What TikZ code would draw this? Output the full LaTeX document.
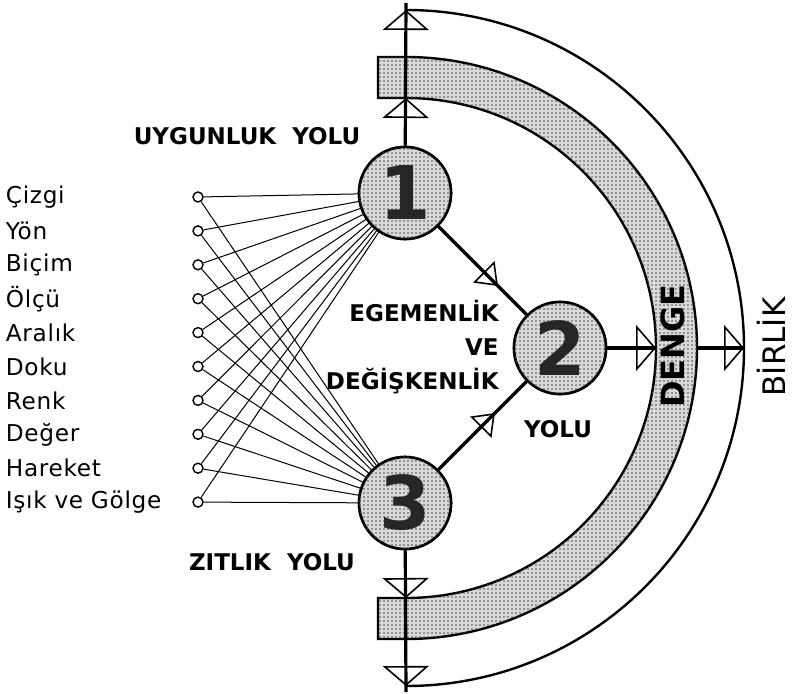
\documentclass[tikz,border=0pt]{standalone}
\usepackage{fontspec}
\setmainfont{DejaVu Sans}
\newfontfamily\labfont[LetterSpace=3]{DejaVu Sans}
\usetikzlibrary{arrows.meta,positioning,calc,patterns.meta}

\begin{document}
\begin{tikzpicture}[x=0.5pt,y=0.5pt,
  node distance=16.95pt and 6pt,
  hub/.style={draw,circle,line width=1.3pt,minimum size=46pt,inner sep=0pt,fill=gray!30,
    postaction={pattern={Dots[radius=0.45pt,distance=2pt]},pattern color=black!70},
    font=\fontsize{37}{37}\selectfont\bfseries,text=black!85},
  term/.style={draw,circle,inner sep=0pt,minimum size=5pt,line width=0.7pt,fill=white,on grid},
  lab/.style={text width=87pt,align=left,inner sep=0pt,font=\labfont\fontsize{11.6}{12}\selectfont},
  head/.style={inner sep=0pt,font=\fontsize{11.5}{17}\selectfont\bfseries},
  band/.style={draw,line width=1.2pt,fill=gray!30,
    postaction={pattern={Dots[radius=0.45pt,distance=2pt]},pattern color=black!70}},
  rim/.style={draw,line width=1.2pt},
  fan/.style={line width=0.5pt},
  axis/.style={line width=1.6pt},
  tip/.style={line width=0.8pt,-{Triangle[open,length=10pt,width=23pt,line width=0.8pt]}},
  midtip/.style={line width=0.8pt,-{Triangle[open,length=10pt,width=15pt,line width=0.8pt]}}
]
\useasboundingbox (0,0) rectangle (793,693);

% the three ways
\node[hub] (c1) at (405,500) {1};
\node[hub] (c2) at (560,345) {2};
\node[hub] (c3) at (405,190) {3};

% elements
\node[term] (t1) at (198,496) {};
\node[term,below=of t1] (t2) {};
\node[term,below=of t2] (t3) {};
\node[term,below=of t3] (t4) {};
\node[term,below=of t4] (t5) {};
\node[term,below=of t5] (t6) {};
\node[term,below=of t6] (t7) {};
\node[term,below=of t7] (t8) {};
\node[term,below=of t8] (t9) {};
\node[term,below=of t9] (t10) {};
\node[lab,left=of t1] (l1) {Çizgi};
\node[lab,left=of t2] (l2) {Yön};
\node[lab,left=of t3] (l3) {Biçim};
\node[lab,left=of t4] (l4) {Ölçü};
\node[lab,left=of t5] (l5) {Aralık};
\node[lab,left=of t6] (l6) {Doku};
\node[lab,left=of t7] (l7) {Renk};
\node[lab,left=of t8] (l8) {Değer};
\node[lab,left=of t9] (l9) {Hareket};
\node[lab,left=of t10] (l10) {Işık ve Gölge};

\draw[fan] (t1) -- (c1) (t1) -- (c3);
\draw[fan] (t2) -- (c1) (t2) -- (c3);
\draw[fan] (t3) -- (c1) (t3) -- (c3);
\draw[fan] (t4) -- (c1) (t4) -- (c3);
\draw[fan] (t5) -- (c1) (t5) -- (c3);
\draw[fan] (t6) -- (c1) (t6) -- (c3);
\draw[fan] (t7) -- (c1) (t7) -- (c3);
\draw[fan] (t8) -- (c1) (t8) -- (c3);
\draw[fan] (t9) -- (c1) (t9) -- (c3);
\draw[fan] (t10) -- (c1) (t10) -- (c3);

% balance band and outer rim
\path[band] (378,636) -- (406,636) arc[start angle=90,end angle=-90,radius=291]
  -- (378,54) -- (378,95) -- (406,95) arc[start angle=-90,end angle=90,radius=250]
  -- (378,595) -- cycle;
\path[rim] (406,683) arc[start angle=90,end angle=-90,radius=338];

\coordinate (top) at (406,690);
\coordinate (up1) at (406,595);
\coordinate (up2) at (406,683);
\coordinate (bot) at (406,1);
\coordinate (dn1) at (406,95);
\coordinate (dn2) at (406,7);
\coordinate (rt1) at (656,345);
\coordinate (bo) at (697,345);
\coordinate (rt2) at (744,345);
\coordinate (m12) at ($(c1)!0.6!(c2)$);
\coordinate (m32) at ($(c3)!0.58!(c2)$);

\draw[axis] (c1) -- (top);
\draw[axis] (c3) -- (bot);
\draw[axis] (c2) -- (rt1);
\draw[axis] (bo) -- (rt2);
\draw[axis] (c1) -- (c2);
\draw[axis] (c3) -- (c2);
\draw[tip] (c1) -- (up1);
\draw[tip] (c1) -- (up2);
\draw[tip] (c3) -- (dn1);
\draw[tip] (c3) -- (dn2);
\draw[tip] (c2) -- (rt1);
\draw[tip] (bo) -- (rt2);
\draw[midtip] (c1) -- (m12);
\draw[midtip] (c3) -- (m32);

% redraw hubs over line ends
\node[hub] at (c1) {1};
\node[hub] at (c2) {2};
\node[hub] at (c3) {3};

\node[head] (uy) at (247,557) {UYGUNLUK\ \ YOLU};
\node[head] (zt) at (272,131) {ZITLIK\ \ YOLU};
\node[head,align=right,anchor=east] (eg) at (499,346) {EGEMENLİK\\VE\\DEĞİŞKENLİK};
\node[head] (yl) at (558,264) {YOLU};
\node[rotate=90,inner sep=0pt,font=\fontsize{16}{16}\selectfont\bfseries] (dg) at (673,347) {DENGE};
\node[rotate=90,inner sep=0pt,font=\fontsize{15.5}{16}\selectfont] (bl) at (771,346) {BİRLİK};
\end{tikzpicture}
\end{document}
